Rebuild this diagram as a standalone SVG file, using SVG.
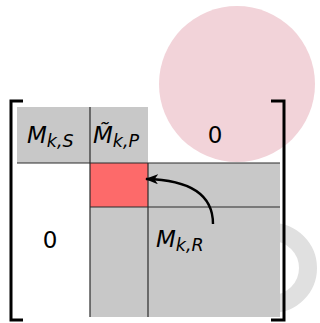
<svg xmlns="http://www.w3.org/2000/svg" width="320" height="323" viewBox="0 0 320 323">
<style>
.grid{stroke:#2a2a2a;stroke-width:1.2;fill:none}
.br{stroke:#000;stroke-width:3;fill:none}
.t{font-family:"DejaVu Sans",sans-serif;fill:#000}
.m{font-style:oblique;font-size:23px}
.s{font-style:oblique;font-size:17.5px}
.z{font-size:23px}
</style>
<defs>
<marker id="ah" viewBox="0 0 13 10" refX="12" refY="5" markerWidth="13" markerHeight="10" markerUnits="userSpaceOnUse" orient="auto">
<path d="M0,0 L13,5 L0,10 L3.5,5 Z" fill="#000"/>
</marker>
</defs>
<g id="bg">
<circle cx="237" cy="84" r="78" fill="#f2d3d9"/>
<circle cx="272" cy="268" r="36" fill="none" stroke="#e0e0e0" stroke-width="18"/>
</g>
<g id="blockS">
<rect x="17" y="107" width="73" height="56" fill="#c8c8c8"/>
<text class="t" x="27" y="143"><tspan class="m">M</tspan><tspan class="s" dy="4">k,S</tspan></text>
</g>
<g id="blockP">
<rect x="90" y="107" width="58" height="56" fill="#c8c8c8"/>
<text class="t" x="93" y="143"><tspan class="m">M&#x303;</tspan><tspan class="s" dy="4">k,P</tspan></text>
</g>
<g id="zeroTop">
<text class="t z" x="215" y="143" text-anchor="middle">0</text>
</g>
<g id="blockR">
<rect x="90" y="163" width="190" height="154" fill="#c8c8c8"/>
<rect x="90" y="163" width="58" height="44" fill="#fd6a6a"/>
<text class="t" x="156" y="247"><tspan class="m">M</tspan><tspan class="s" dy="4">k,R</tspan></text>
</g>
<g id="zeroLeft">
<text class="t z" x="50" y="248" text-anchor="middle">0</text>
</g>
<g id="lines">
<line class="grid" x1="17" y1="163" x2="280" y2="163"/>
<line class="grid" x1="90" y1="207" x2="280" y2="207"/>
<line class="grid" x1="90" y1="107" x2="90" y2="317"/>
<line class="grid" x1="148" y1="163" x2="148" y2="317"/>
</g>
<g id="brackets">
<path class="br" d="M23,101 L11,101 L11,320 L23,320"/>
<path class="br" d="M271,101 L284,101 L284,320 L271,320"/>
</g>
<g id="connectors">
<path d="M213,224 C213,196 192,180 146,179" fill="none" stroke="#000" stroke-width="2.4" marker-end="url(#ah)"/>
</g>
</svg>
